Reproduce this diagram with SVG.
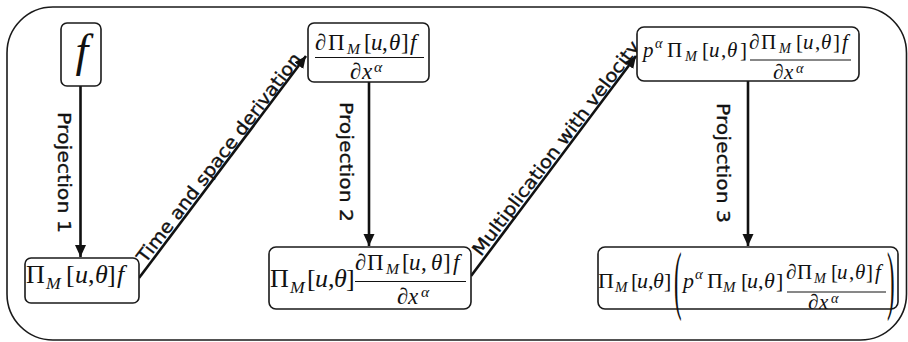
<svg xmlns="http://www.w3.org/2000/svg" width="908" height="342" viewBox="0 0 908 342">
<style>
.frame{fill:none;stroke:#1a1a1a;stroke-width:1.6}
.box{fill:#fff;stroke:#1a1a1a;stroke-width:1.6}
.edge{fill:none;stroke:#111;stroke-width:2.6}
.lbl{font-family:"DejaVu Sans",sans-serif;font-size:18px;fill:#111;stroke:#111;stroke-width:0.35}
.m{font-family:"Liberation Serif","Times New Roman",serif;fill:#111}
.i{font-style:italic}
.s{font-style:italic;font-size:0.68em}
.fr{stroke:#111;stroke-width:1}
</style>
<defs>
<marker id="ah" markerUnits="userSpaceOnUse" markerWidth="13" markerHeight="12" refX="12" refY="5.5" orient="auto">
<path d="M0,0 L12,5.5 L0,11 z" fill="#111"/>
</marker>
</defs>
<rect class="frame" x="7" y="7" width="899.5" height="333" rx="46" ry="46"/>

<g id="connectors">
<line class="edge" x1="80.5" y1="86" x2="80.5" y2="257" marker-end="url(#ah)"/>
<line class="edge" x1="139" y1="278" x2="306" y2="56" marker-end="url(#ah)"/>
<line class="edge" x1="369" y1="82" x2="369" y2="246" marker-end="url(#ah)"/>
<line class="edge" x1="471" y1="276" x2="636" y2="56" marker-end="url(#ah)"/>
<line class="edge" x1="748" y1="81" x2="748" y2="246" marker-end="url(#ah)"/>
<text class="lbl" transform="translate(58,112) rotate(90)" textLength="121" lengthAdjust="spacingAndGlyphs">Projection 1</text>
<text class="lbl" transform="translate(340,102) rotate(90)" textLength="120" lengthAdjust="spacingAndGlyphs">Projection 2</text>
<text class="lbl" transform="translate(717,103) rotate(90)" textLength="120" lengthAdjust="spacingAndGlyphs">Projection 3</text>
<text class="lbl" transform="translate(145.5,264) rotate(-52.6)" textLength="258" lengthAdjust="spacingAndGlyphs">Time and space derivation</text>
<text class="lbl" transform="translate(481,257) rotate(-52.8)" textLength="264" lengthAdjust="spacingAndGlyphs">Multiplication with velocity</text>
</g>

<g id="node-f">
<rect class="box" x="61" y="23" width="40" height="63" rx="6"/>
<text class="m i" x="82" y="66" font-size="46" text-anchor="middle">f</text>
</g>

<g id="node-proj1">
<rect class="box" x="25" y="258" width="114" height="45" rx="6"/>
<text class="m" font-size="26" y="283"><tspan x="26">Π</tspan><tspan x="46" y="289" class="s">M</tspan><tspan x="66" y="283">[</tspan><tspan x="75" class="i">u</tspan><tspan x="88">,</tspan><tspan x="95" class="i">θ</tspan><tspan x="107">]</tspan><tspan x="117" class="i">f</tspan></text>
</g>

<g id="node-deriv">
<rect class="box" x="308" y="23" width="121" height="59" rx="6"/>
<text class="m" font-size="23" y="50"><tspan x="315">∂</tspan><tspan x="328">Π</tspan><tspan x="347" y="54" class="s">M</tspan><tspan x="364" y="50">[</tspan><tspan x="371" class="i">u</tspan><tspan x="382">,</tspan><tspan x="389" class="i">θ</tspan><tspan x="401">]</tspan><tspan x="410" class="i">f</tspan></text>
<line class="fr" x1="315" y1="57.5" x2="424" y2="57.5"/>
<text class="m" font-size="23" y="79"><tspan x="350">∂</tspan><tspan x="362" class="i">x</tspan><tspan x="374" y="72" class="s">α</tspan></text>
</g>

<g id="node-proj2">
<rect class="box" x="269" y="247" width="202" height="62" rx="7"/>
<text class="m" font-size="26" y="287"><tspan x="270">Π</tspan><tspan x="290" y="293" class="s">M</tspan><tspan x="307" y="287">[</tspan><tspan x="315" class="i">u</tspan><tspan x="328">,</tspan><tspan x="334" class="i">θ</tspan><tspan x="346">]</tspan></text>
<text class="m" font-size="23" y="270"><tspan x="355">∂</tspan><tspan x="367">Π</tspan><tspan x="386" y="274" class="s">M</tspan><tspan x="402" y="270">[</tspan><tspan x="409" class="i">u</tspan><tspan x="421">,</tspan><tspan x="431" class="i">θ</tspan><tspan x="443">]</tspan><tspan x="453" class="i">f</tspan></text>
<line class="fr" x1="355" y1="281.5" x2="466" y2="281.5"/>
<text class="m" font-size="23" y="304"><tspan x="397">∂</tspan><tspan x="408" class="i">x</tspan><tspan x="421" y="297" class="s">α</tspan></text>
</g>

<g id="node-velocity">
<rect class="box" x="637" y="27" width="222" height="54" rx="7"/>
<text class="m" font-size="21" y="57"><tspan x="643" class="i">p</tspan><tspan x="655" y="48" class="s">α</tspan><tspan x="667" y="57">Π</tspan><tspan x="685" y="61" class="s">M</tspan><tspan x="702" y="57">[</tspan><tspan x="709" class="i">u</tspan><tspan x="721">,</tspan><tspan x="727" class="i">θ</tspan><tspan x="740">]</tspan></text>
<text class="m" font-size="21" y="49"><tspan x="749">∂</tspan><tspan x="761">Π</tspan><tspan x="779" y="53" class="s">M</tspan><tspan x="796" y="49">[</tspan><tspan x="803" class="i">u</tspan><tspan x="815">,</tspan><tspan x="821" class="i">θ</tspan><tspan x="833">]</tspan><tspan x="842" class="i">f</tspan></text>
<line class="fr" x1="750" y1="60" x2="851" y2="60"/>
<text class="m" font-size="21" y="79"><tspan x="773">∂</tspan><tspan x="784" class="i">x</tspan><tspan x="796" y="73" class="s">α</tspan></text>
</g>

<g id="node-proj3">
<rect class="box" x="598" y="247" width="300" height="62" rx="7"/>
<text class="m" font-size="22" y="288"><tspan x="598">Π</tspan><tspan x="615" y="292" class="s">M</tspan><tspan x="631" y="288">[</tspan><tspan x="637" class="i">u</tspan><tspan x="648">,</tspan><tspan x="653" class="i">θ</tspan><tspan x="664">]</tspan></text>
<text class="m" font-size="76" transform="translate(674,304.5) scale(0.3,1)">(</text>
<text class="m" font-size="22" y="288"><tspan x="683" class="i">p</tspan><tspan x="695" y="279" class="s">α</tspan><tspan x="707" y="288">Π</tspan><tspan x="723" y="292" class="s">M</tspan><tspan x="741" y="288">[</tspan><tspan x="747" class="i">u</tspan><tspan x="758">,</tspan><tspan x="764" class="i">θ</tspan><tspan x="776">]</tspan></text>
<text class="m" font-size="21" y="279"><tspan x="786">∂</tspan><tspan x="797">Π</tspan><tspan x="814" y="283" class="s">M</tspan><tspan x="831" y="279">[</tspan><tspan x="837" class="i">u</tspan><tspan x="849">,</tspan><tspan x="855" class="i">θ</tspan><tspan x="866">]</tspan><tspan x="875" class="i">f</tspan></text>
<line class="fr" x1="787" y1="292" x2="886" y2="292"/>
<text class="m" font-size="21" y="309"><tspan x="808">∂</tspan><tspan x="819" class="i">x</tspan><tspan x="831" y="303" class="s">α</tspan></text>
<text class="m" font-size="76" transform="translate(887,304.5) scale(0.3,1)">)</text>
</g>
</svg>
